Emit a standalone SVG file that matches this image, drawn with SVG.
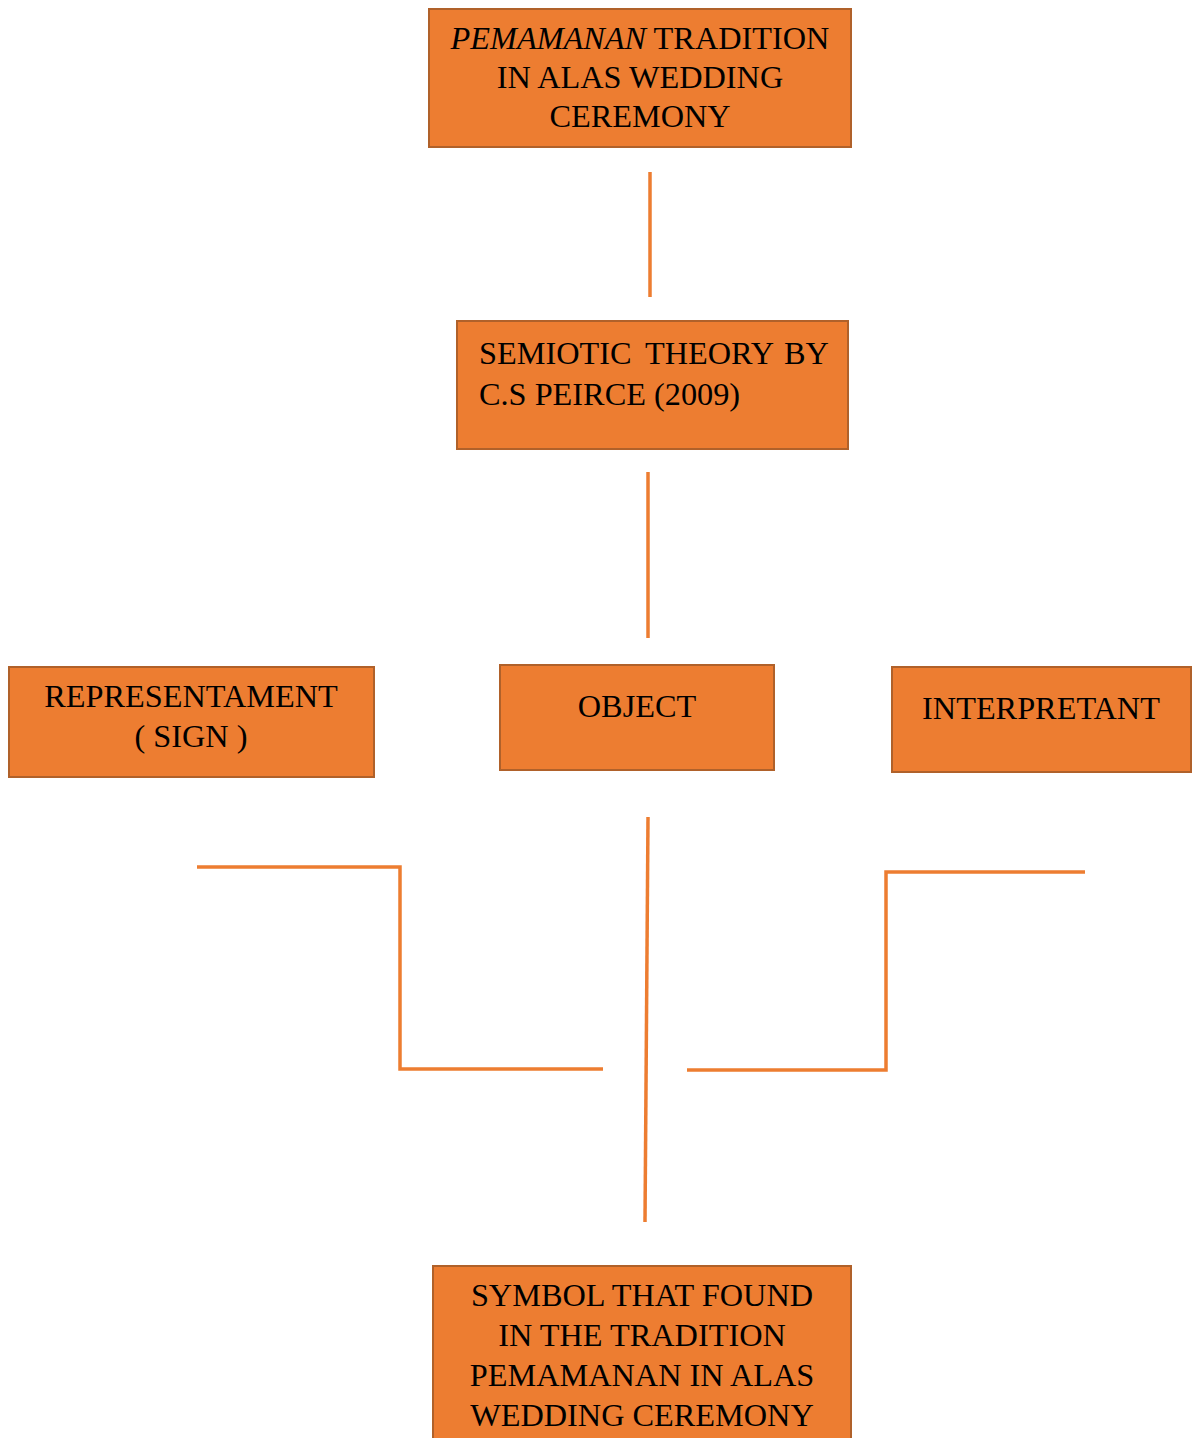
<svg xmlns="http://www.w3.org/2000/svg" width="1192" height="1438" viewBox="0 0 1192 1438">
<style>
.box{fill:#ED7D31;stroke:#B0612A;stroke-width:2}
.t{font-family:"Liberation Serif","Times New Roman",serif;font-size:32.3px;fill:#000}
.c{text-anchor:middle}
.ln{fill:none;stroke:#ED7D31;stroke-width:3.5}
</style>
<rect width="1192" height="1438" fill="#fff"/>
<g id="connectors">
<line class="ln" x1="650" y1="172" x2="650" y2="297"/>
<line class="ln" x1="648" y1="472" x2="648" y2="638"/>
<line class="ln" x1="648" y1="817" x2="645" y2="1222"/>
<polyline class="ln" points="197,867 400,867 400,1069 603,1069"/>
<polyline class="ln" points="1085,872 886,872 886,1070 687,1070"/>
</g>
<g id="node-tradition">
<rect class="box" x="429" y="9" width="422" height="138"/>
<text class="t c" x="640" y="49"><tspan font-style="italic">PEMAMANAN</tspan> TRADITION</text>
<text class="t c" x="640" y="88">IN ALAS WEDDING</text>
<text class="t c" x="640" y="127">CEREMONY</text>
</g>
<g id="node-semiotic">
<rect class="box" x="457" y="321" width="391" height="128"/>
<text class="t" y="364"><tspan x="479">SEMIOTIC</tspan><tspan x="645">THEORY</tspan><tspan x="784">BY</tspan></text>
<text class="t" x="479" y="405">C.S PEIRCE (2009)</text>
</g>
<g id="node-representament">
<rect class="box" x="9" y="667" width="365" height="110"/>
<text class="t c" x="191" y="707">REPRESENTAMENT</text>
<text class="t c" x="191" y="747">( SIGN )</text>
</g>
<g id="node-object">
<rect class="box" x="500" y="665" width="274" height="105"/>
<text class="t c" x="637" y="717">OBJECT</text>
</g>
<g id="node-interpretant">
<rect class="box" x="892" y="667" width="299" height="105"/>
<text class="t c" x="1041" y="719">INTERPRETANT</text>
</g>
<g id="node-symbol">
<rect class="box" x="433" y="1266" width="418" height="180"/>
<text class="t c" x="642" y="1306">SYMBOL THAT FOUND</text>
<text class="t c" x="642" y="1346">IN THE TRADITION</text>
<text class="t c" x="642" y="1386">PEMAMANAN IN ALAS</text>
<text class="t c" x="642" y="1426">WEDDING CEREMONY</text>
</g>
</svg>
